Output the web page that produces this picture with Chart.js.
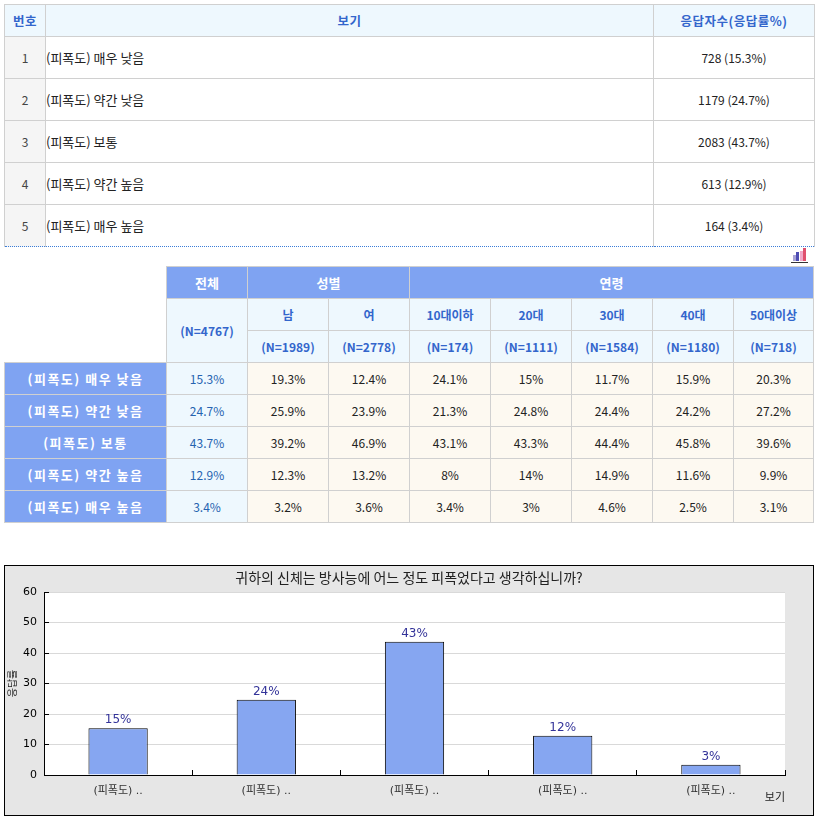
<!DOCTYPE html>
<html>
<head>
<meta charset="utf-8">
<script src="https://cdn.jsdelivr.net/npm/chart.js@4"></script>
<style>
  body { margin: 0; background: #fff; font-family: "Noto Sans CJK KR", sans-serif; font-size: 12px; color: #222; }
  table { border-collapse: collapse; table-layout: fixed; position: absolute; }
  td, th { border: 1px solid #d0d0d0; padding: 0; font-size: 12px; }
  #t1 { left: 4px; top: 4px; width: 810px; }
  #t1 th { background: #eef8fe; color: #3366cc; height: 31px; font-weight: bold; font-size: 12.5px; letter-spacing: 0.5px; }
  #t1 td { height: 41px; }
  #t1 td.no { background: #f5f5f5; text-align: center; color: #444; }
  #t1 td.opt { text-align: left; font-size: 13px; }
  #t1 td.cnt { text-align: center; }
  #t1 tr:last-child td { border-bottom: 1px dotted #3b7dd8; }
  #t2 { left: 4px; top: 266px; width: 810px; }
  #t2 td, #t2 th { height: 31px; text-align: center; }
  #t2 td.blank { border: none; background: #fff; }
  #t2 th.h1 { background: #7fa3f2; color: #fff; font-size: 13px; }
  #t2 th.h2 { background: #eef8fe; color: #3366cc; }
  #t2 th.row { background: #7fa3f2; color: #fff; font-size: 13px; letter-spacing: 1.5px; }
  #t2 td.all { background: #eef8fe; color: #2563b0; }
  #t2 td.val { background: #fdf9f1; color: #222; }
  #icon { position: absolute; left: 791px; top: 248px; width: 17px; height: 15px; }
  #icon span { position: absolute; bottom: 2px; width: 3px; }
  #chartBox { position: absolute; left: 4px; top: 565px; width: 808px; height: 249px; border: 1px solid #000; background: #e6e6e6; }
</style>
</head>
<body>
<table id="t1"></table>
<div id="icon">
  <span style="left:2px;height:6px;background:#a9a3d6"></span>
  <span style="left:5px;height:9px;background:#4d4db3"></span>
  <span style="left:9px;height:10px;background:#f0a8c8"></span>
  <span style="left:12px;height:13px;background:#e0506e"></span>
  <span style="left:0;bottom:0;width:17px;height:1px;background:#333"></span>
</div>
<table id="t2"></table>
<div id="chartBox"><canvas id="chart"></canvas></div>
<script>
// answer options
const options = ['(피폭도) 매우 낮음', '(피폭도) 약간 낮음', '(피폭도) 보통', '(피폭도) 약간 높음', '(피폭도) 매우 높음'];
const counts = [728, 1179, 2083, 613, 164];
const rates = [15.3, 24.7, 43.7, 12.9, 3.4];

// crosstab columns
const genderGroups = ['남', '여'];
const ageGroups = ['10대이하', '20대', '30대', '40대', '50대이상'];
const totalN = 4767;
const groupN = [1989, 2778, 174, 1111, 1584, 1180, 718];
const groupRates = [
  [19.3, 12.4, 24.1, 15, 11.7, 15.9, 20.3],
  [25.9, 23.9, 21.3, 24.8, 24.4, 24.2, 27.2],
  [39.2, 46.9, 43.1, 43.3, 44.4, 45.8, 39.6],
  [12.3, 13.2, 8, 14, 14.9, 11.6, 9.9],
  [3.2, 3.6, 3.4, 3, 4.6, 2.5, 3.1]
];

// chart
const chartTitle = '귀하의 신체는 방사능에 어느 정도 피폭었다고 생각하십니까?';
const barLabels = ['15%', '24%', '43%', '12%', '3%'];
const yTicks = [0, 10, 20, 30, 40, 50, 60];

// table 1
let h = '<colgroup><col style="width:41px"><col style="width:608px"><col style="width:161px"></colgroup>';
h += '<tr><th>번호</th><th>보기</th><th>응답자수(응답률%)</th></tr>';
options.forEach((o, i) => {
  h += '<tr><td class="no">' + (i + 1) + '</td><td class="opt">' + o + '</td><td class="cnt">' +
       counts[i] + ' (' + rates[i] + '%)</td></tr>';
});
document.getElementById('t1').innerHTML = h;

// table 2
h = '<colgroup><col style="width:162px">' + '<col style="width:81px">'.repeat(7) + '<col style="width:80px"></colgroup>';
h += '<tr><td class="blank" rowspan="3"></td><th class="h1">전체</th><th class="h1" colspan="2">성별</th>' +
     '<th class="h1" colspan="5">연령</th></tr>';
h += '<tr><th class="h2" rowspan="2">(N=' + totalN + ')</th>';
genderGroups.concat(ageGroups).forEach(g => { h += '<th class="h2">' + g + '</th>'; });
h += '</tr><tr>';
groupN.forEach(n => { h += '<th class="h2">(N=' + n + ')</th>'; });
h += '</tr>';
options.forEach((o, i) => {
  h += '<tr><th class="row">' + o + '</th><td class="all">' + rates[i] + '%</td>';
  groupRates[i].forEach(v => { h += '<td class="val">' + v + '%</td>'; });
  h += '</tr>';
});
document.getElementById('t2').innerHTML = h;

const plotBg = {
  id: 'plotBg',
  beforeDraw(chart) {
    const { ctx, chartArea: a } = chart;
    ctx.save();
    ctx.fillStyle = '#fff';
    ctx.fillRect(a.left, a.top, a.right - a.left, a.bottom - a.top);
    ctx.restore();
  }
};

const valueLabels = {
  id: 'valueLabels',
  afterDatasetsDraw(chart) {
    const { ctx } = chart;
    const meta = chart.getDatasetMeta(0);
    ctx.save();
    ctx.font = '12px "DejaVu Sans", "Noto Sans CJK KR"';
    ctx.fillStyle = '#333399';
    ctx.textAlign = 'center';
    ctx.textBaseline = 'bottom';
    meta.data.forEach((bar, i) => ctx.fillText(barLabels[i], bar.x, bar.y - 2));
    ctx.restore();
  }
};

const axisFont = { family: '"DejaVu Sans", "Noto Sans CJK KR"', size: 11 };

new Chart(document.getElementById('chart'), {
  type: 'bar',
  data: {
    labels: options.map(o => o.slice(0, 5) + ' ..'),
    datasets: [{
      data: rates,
      backgroundColor: '#86a6f1',
      borderColor: '#000',
      borderWidth: 1,
      categoryPercentage: 1,
      barPercentage: 0.4
    }]
  },
  options: {
    responsive: true,
    maintainAspectRatio: false,
    animation: false,
    layout: { padding: 0 },
    plugins: {
      legend: { display: false },
      tooltip: { enabled: false },
      title: {
        display: true,
        text: chartTitle,
        color: '#222',
        font: { family: '"Noto Sans CJK KR"', size: 14, weight: 'normal', lineHeight: 1.1 },
        padding: { top: 4.3, bottom: 6.3 }
      }
    },
    scales: {
      x: {
        afterFit: s => { s.height = 40; },
        border: { color: '#000', width: 1 },
        grid: { offset: true, drawOnChartArea: false, tickLength: -5, tickColor: '#000' },
        ticks: { color: '#333', font: axisFont, padding: 15, maxRotation: 0, autoSkip: false },
        title: { display: true, text: '보기', align: 'end', color: '#222', font: { family: '"Noto Sans CJK KR"', size: 11 }, padding: { top: 0, bottom: 12 } }
      },
      y: {
        min: 0,
        max: 60,
        afterFit: s => { s.width = 39; },
        afterBuildTicks: s => {
          const t = [];
          yTicks.forEach((v, i) => { t.push({ value: v }); if (i < yTicks.length - 1) t.push({ value: v + 5 }); });
          s.ticks = t;
        },
        border: { color: '#000', width: 1 },
        grid: {
          color: c => (c.tick && yTicks.includes(c.tick.value)) ? '#d9d9d9' : 'rgba(0,0,0,0)',
          tickColor: '#000',
          tickLength: -5
        },
        ticks: {
          color: '#000',
          font: axisFont,
          padding: 12,
          callback: v => yTicks.includes(v) ? String(v) : ''
        },
        title: { display: true, text: '응답률', color: '#222', font: { family: '"Noto Sans CJK KR"', size: 10 }, padding: { top: 1, bottom: 0 } }
      },
      // empty right-hand margin so the title stays centred on the whole box
      yRight: {
        position: 'right',
        afterFit: s => { s.width = 28; },
        grid: { display: false },
        border: { display: false },
        ticks: { display: false }
      }
    }
  },
  plugins: [plotBg, valueLabels]
});
</script>
</body>
</html>
